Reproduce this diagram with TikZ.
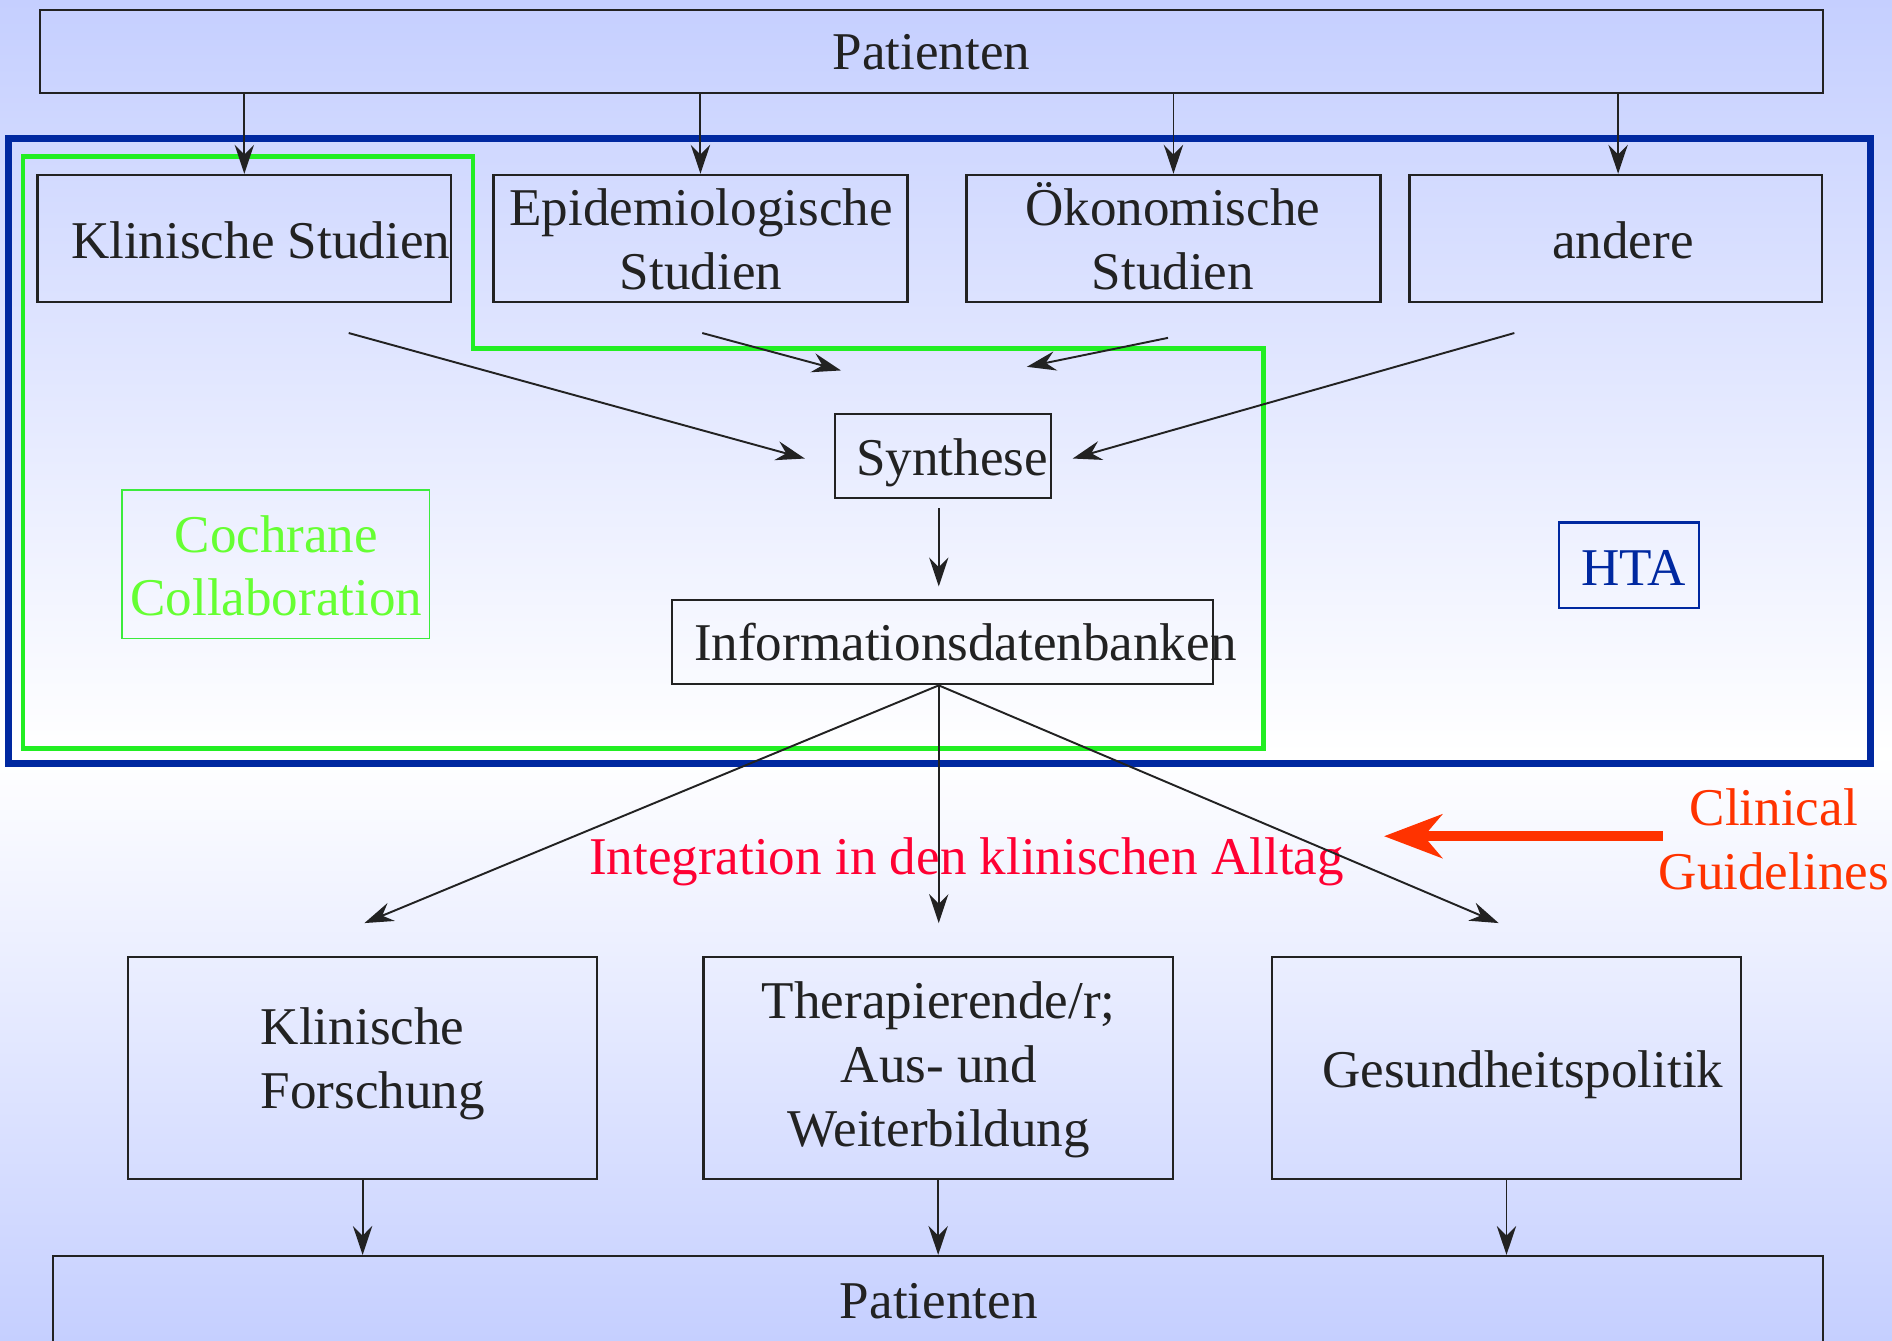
\documentclass[tikz,border=0pt]{standalone}
\usepackage{fontspec}
\setmainfont{Liberation Serif}
\usetikzlibrary{arrows.meta}
\definecolor{bgblue}{RGB}{197,207,255}
\definecolor{htablue}{RGB}{0,40,160}
\definecolor{cgreen}{RGB}{34,238,34}
\definecolor{cobox}{RGB}{60,235,60}
\definecolor{cotext}{RGB}{102,255,51}
\definecolor{intred}{RGB}{255,0,51}
\definecolor{cgorange}{RGB}{255,51,0}
\definecolor{ink}{RGB}{34,34,34}
\begin{document}
\begin{tikzpicture}[x=1pt,y=-1pt,
  box/.style={draw=ink, line width=1.9pt, rectangle, inner sep=0pt},
  txt/.style={font=\fontsize{44}{53}\selectfont, text=ink, align=center, inner sep=0pt, anchor=base},
  conn/.style={draw=ink, line width=1.6pt, -{Stealth[length=24pt,width=16pt,inset=8pt]}},
  bigarrow/.style={draw=cgorange, line width=8pt, -{Stealth[length=48pt,width=36pt,inset=15pt]}},
]
\useasboundingbox (0,0) rectangle (1568,1111);
% background
\shade[top color=bgblue, bottom color=white] (0,0) rectangle (1568,625);
\shade[top color=white, bottom color=bgblue] (0,625) rectangle (1568,1111);

% HTA frame and Cochrane frame
\node[draw=htablue, line width=6pt, rectangle, inner sep=0pt, minimum width=1543pt, minimum height=518pt] (htabig) at (778.5,374) {};
\draw[cgreen, line width=4pt] (19,130) -- (392,130) -- (392,289) -- (1047,289) -- (1047,620) -- (19,620) -- cycle;

% boxes
\node[box, minimum width=1478pt, minimum height=69pt] (pat) at (772,42.5) {};
\node[box, minimum width=343pt, minimum height=105pt] (ks) at (202.5,197.5) {};
\node[box, minimum width=343pt, minimum height=105pt] (epi) at (580.5,197.5) {};
\node[box, minimum width=343pt, minimum height=105pt] (oek) at (972.5,197.5) {};
\node[box, minimum width=342pt, minimum height=105pt] (and) at (1339,197.5) {};
\node[box, minimum width=179pt, minimum height=70pt] (syn) at (781.5,378) {};
\node[box, minimum width=448pt, minimum height=70pt] (info) at (781,532) {};
\node[draw=cobox, line width=1.3pt, rectangle, inner sep=0pt, minimum width=255pt, minimum height=123pt] (coch) at (228.5,467.5) {};
\node[draw=htablue, line width=1.8pt, rectangle, inner sep=0pt, minimum width=116pt, minimum height=71pt] (hta) at (1350,468.5) {};
\node[box, minimum width=389pt, minimum height=184pt] (kf) at (300.5,885) {};
\node[box, minimum width=389pt, minimum height=184pt] (ther) at (777.5,885) {};
\node[box, minimum width=389pt, minimum height=184pt] (ges) at (1248.5,885) {};
\node[box, minimum width=1467pt, minimum height=89pt] (pat2) at (777.5,1085.5) {};

% texts (base = baseline of the last line)
\node[txt] (tpat) at (772,58) {Patienten};
\node[txt] (tks) at (216,214) {Klinische Studien};
\node[txt] (tepi) at (581,240) {Epidemiologische\\Studien};
\node[txt] (toek) at (972,240) {Ökonomische\\Studien};
\node[txt] (tand) at (1345,214) {andere};
\node[txt] (tsyn) at (789,394) {Synthese};
\node[txt] (tinfo) at (800,547) {Informationsdatenbanken};
\node[txt, text=cotext] (tcoch) at (229,510.5) {Cochrane\\Collaboration};
\node[txt, text=htablue] (thta) at (1354,485) {HTA};
\node[txt, text=intred] (tint) at (801,725) {Integration in den klinischen Alltag};
\node[txt, text=cgorange] (tcg) at (1470,737) {Clinical\\Guidelines};
\node[txt, anchor=base west, align=left] (tkf) at (216,919) {Klinische\\Forschung};
\node[txt] (tther) at (778,950) {Therapierende/r;\\Aus- und\\Weiterbildung};
\node[txt] (tges) at (1262,901) {Gesundheitspolitik};
\node[txt] (tpat2) at (778,1093) {Patienten};

% connectors: Patienten -> studies
\draw[conn] (ks.north |- pat.south) -- (ks.north);
\draw[conn] (epi.north |- pat.south) -- (epi.north);
\draw[conn] (oek.north |- pat.south) -- (oek.north);
\draw[conn] ([xshift=2pt]and.north |- pat.south) -- ([xshift=2pt]and.north);

% studies -> Synthese
\coordinate (s1a) at (289,276); \coordinate (s1b) at (667,380);
\coordinate (s2a) at (582,276); \coordinate (s2b) at (697,307);
\coordinate (s3a) at (968,280); \coordinate (s3b) at (851,304);
\coordinate (s4a) at (1255,276); \coordinate (s4b) at (889,380);
\draw[conn] (s1a) -- (s1b);
\draw[conn] (s2a) -- (s2b);
\draw[conn] (s3a) -- (s3b);
\draw[conn] (s4a) -- (s4b);

% Synthese -> Informationsdatenbanken
\coordinate (sy1) at (778,421); \coordinate (sy2) at (778,486);
\draw[conn] (sy1) -- (sy2);

% Informationsdatenbanken -> users
\coordinate (ib) at (778,568);
\coordinate (u1) at (302,765);
\coordinate (u2) at (778,765);
\coordinate (u3) at (1242,765);
\draw[conn] (ib) -- (u1);
\draw[conn] (ib) -- (u2);
\draw[conn] (ib) -- (u3);

% users -> Patienten
\draw[conn] (kf.south) -- (kf.south |- pat2.north);
\draw[conn] (ther.south) -- (ther.south |- pat2.north);
\draw[conn] (ges.south) -- (ges.south |- pat2.north);

% Clinical Guidelines arrow
\coordinate (cg1) at (1378,693); \coordinate (cg2) at (1147,693);
\draw[bigarrow] (cg1) -- (cg2);
\end{tikzpicture}
\end{document}
